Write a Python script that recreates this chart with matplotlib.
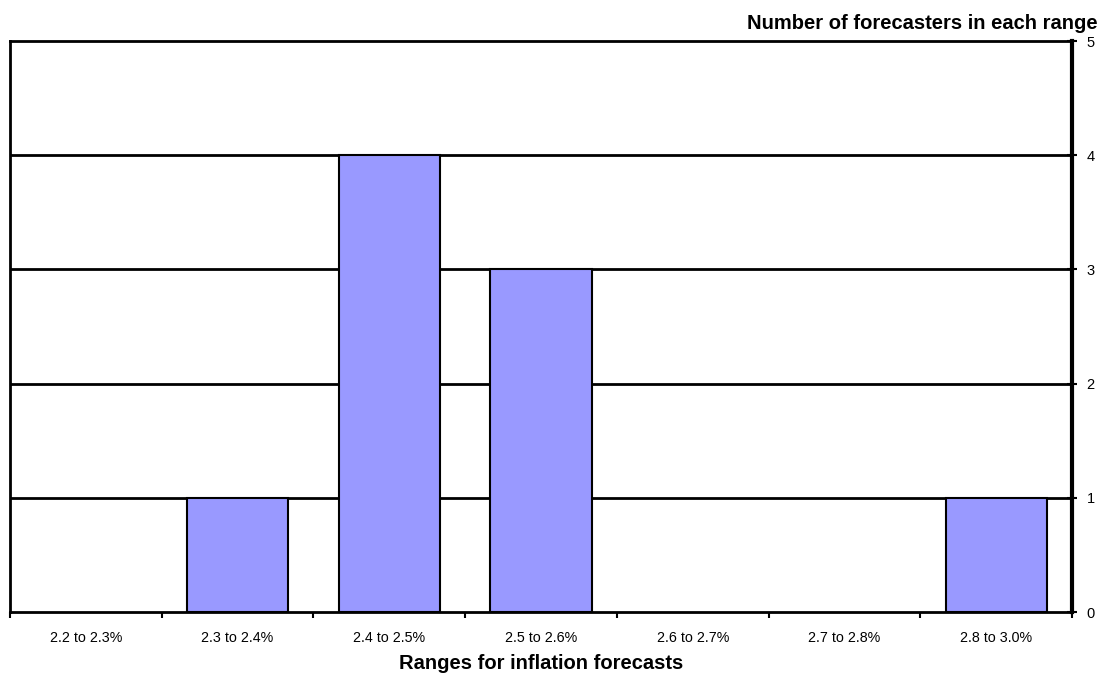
import numpy as np
import matplotlib.pyplot as plt

plt.rcParams['font.family'] = ['Liberation Sans', 'DejaVu Sans']

ranges = ['2.2 to 2.3%', '2.3 to 2.4%', '2.4 to 2.5%', '2.5 to 2.6%',
          '2.6 to 2.7%', '2.7 to 2.8%', '2.8 to 3.0%']
counts = [0, 1, 4, 3, 0, 0, 1]

fig = plt.figure(figsize=(11.02, 6.77), dpi=100)
ax = fig.add_axes([0.0091, 0.096, 0.9637, 0.8434])

x = np.arange(len(ranges))
bar_h = [c if c > 0 else np.nan for c in counts]
ax.bar(x, bar_h, width=0.667, color='#9999FF', edgecolor='black', linewidth=1.5, zorder=3)

ax.set_xlim(-0.5, len(ranges) - 0.5)
ax.set_ylim(0, 5)

# horizontal grid lines at every whole count
for y in range(1, 5):
    ax.axhline(y, color='black', linewidth=2, zorder=1)

ax.yaxis.tick_right()
ax.set_yticks(range(0, 6))
ax.tick_params(axis='y', direction='inout', length=7, width=1.5, labelsize=10.5, pad=7)

ax.set_xticks(x)
ax.set_xticklabels(ranges, fontsize=10.3)
ax.tick_params(axis='x', which='major', length=0, pad=14)
ax.set_xticks(np.arange(-0.5, len(ranges) - 0.4, 1), minor=True)
ax.tick_params(axis='x', which='minor', direction='out', length=4, width=1.5)

for side in ['left', 'bottom', 'top']:
    ax.spines[side].set_linewidth(2)
ax.spines['right'].set_linewidth(3)

ax.set_xlabel('Ranges for inflation forecasts', fontsize=14.5, fontweight='bold', labelpad=6)
fig.text(0.996, 0.951, 'Number of forecasters in each range', ha='right', va='bottom',
         fontsize=14.5, fontweight='bold')

fig.savefig('out.png', dpi=100)
